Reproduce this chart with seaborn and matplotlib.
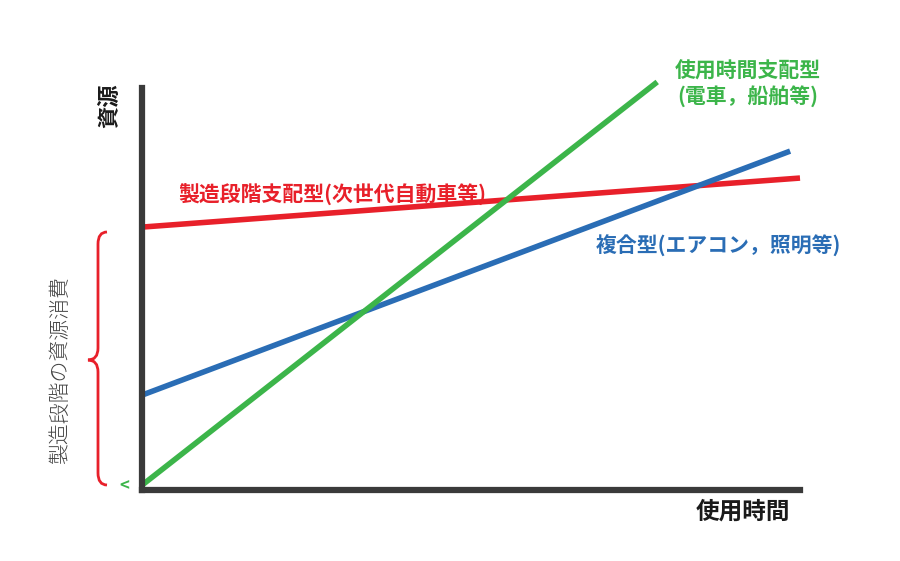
import numpy as np
import pandas as pd
import matplotlib
matplotlib.use("Agg")
import matplotlib.pyplot as plt
from matplotlib.path import Path
from matplotlib.patches import PathPatch
import seaborn as sns

# データ (0-100 の相対スケール)
series = ["製造段階支配型", "複合型", "使用時間支配型"]
x_start = [0, 0, 0]
x_end = [100, 98.5, 78.3]
y_start = [65.4, 23.6, 1.2]
y_end = [77.6, 84.3, 101.5]
colors = ["#e8202a", "#2a6db5", "#3cb54a"]

sns.set_style("white")
plt.rcParams['font.family'] = ['Noto Sans CJK JP', 'DejaVu Sans']

df = pd.DataFrame({
    "series": [s for s in series for _ in range(2)],
    "x": [v for pair in zip(x_start, x_end) for v in pair],
    "y": [v for pair in zip(y_start, y_end) for v in pair],
})

fig = plt.figure(figsize=(9, 5.61), dpi=100)
ax = fig.add_axes([142 / 900, 71 / 561, 658 / 900, 402 / 561])

sns.lineplot(data=df, x="x", y="y", hue="series", palette=colors,
             hue_order=series, linewidth=4, legend=False, ax=ax)
for line in ax.lines:
    line.set_clip_on(False)
    line.set_solid_capstyle("butt")

ax.set_xlim(0, 100)
ax.set_ylim(0, 100)
ax.set_xticks([])
ax.set_yticks([])
ax.set_xlabel("")
ax.set_ylabel("")
for side in ["top", "right"]:
    ax.spines[side].set_visible(False)
for side in ["left", "bottom"]:
    ax.spines[side].set_linewidth(4.5)
    ax.spines[side].set_color("#3a3a3a")
    ax.spines[side].set_zorder(5)


def px(x, y):
    return (x / 900, 1 - y / 561)


# 軸ラベル
fig.text(*px(110, 106), "資源", rotation=90, ha="center", va="center",
         fontsize=16, fontweight="bold", color="#1a1a1a")
fig.text(*px(743, 512), "使用時間", ha="center", va="center",
         fontsize=17, fontweight="bold", color="#1a1a1a")

# 系列ラベル
fig.text(*px(332, 195), "製造段階支配型(次世代自動車等)", ha="center", va="center",
         fontsize=15, fontweight="bold", color=colors[0])
fig.text(*px(718, 246), "複合型(エアコン，照明等)", ha="center", va="center",
         fontsize=15, fontweight="bold", color=colors[1])
fig.text(*px(748, 84), "使用時間支配型\n(電車，船舶等)", ha="center", va="center",
         fontsize=15, fontweight="bold", color=colors[2], linespacing=1.2)

# 製造段階の資源消費（波括弧）
top, bot, mid = 232, 485, 360
xr, xb, xt = 107, 98, 88
verts = [px(xr, top), px(xb, top), px(xb, top + 12),
         px(xb, mid - 12), px(xb, mid), px(xt, mid),
         px(xb, mid), px(xb, mid + 12),
         px(xb, bot - 12), px(xb, bot), px(xr, bot)]
codes = [Path.MOVETO, Path.CURVE3, Path.CURVE3,
         Path.LINETO, Path.CURVE3, Path.CURVE3,
         Path.CURVE3, Path.CURVE3,
         Path.LINETO, Path.CURVE3, Path.CURVE3]
brace = PathPatch(Path(verts, codes), transform=fig.transFigure,
                  fill=False, edgecolor=colors[0], linewidth=2)
fig.patches.append(brace)

fig.text(*px(60, 370), "製造段階の資源消費", rotation=90, ha="center", va="center",
         fontsize=15, fontweight="light", color="#444444")
fig.text(*px(124, 486), "<", ha="center", va="center",
         fontsize=12, fontweight="bold", color=colors[2])

fig.savefig("out.png", dpi=100)
